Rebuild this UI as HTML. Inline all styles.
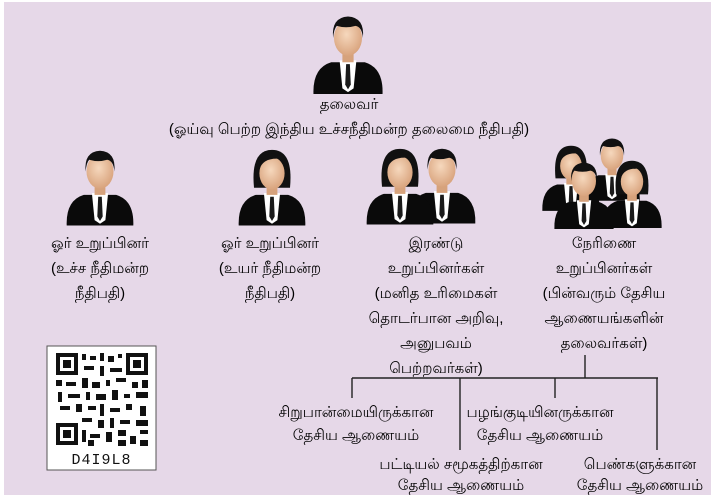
<!DOCTYPE html>
<html><head><meta charset="utf-8"><style>
body{margin:0;width:717px;height:501px;background:#fff;position:relative;overflow:hidden;font-family:"Liberation Sans","Noto Sans CJK SC",sans-serif;}
#bg{position:absolute;left:4px;top:2px;width:707px;height:493px;background:#e6d8e8;}
.t{position:absolute;font-size:15px;line-height:25px;color:#000;text-align:center;white-space:nowrap;transform:translateX(-50%);}
svg{position:absolute;left:0;top:0;}
</style></head><body>
<div id="bg"></div>
<svg width="717" height="501" viewBox="0 0 717 501">
<defs>
<radialGradient id="sk" cx="0.45" cy="0.4" r="0.6"><stop offset="0" stop-color="#f6d8bd"/><stop offset="1" stop-color="#d9a47e"/></radialGradient>
<symbol id="man" viewBox="0 0 80 90">
<path d="M3 90 Q2 62 22 56 L58 56 Q78 62 77 90Z" fill="#0a0a0a"/>
<path d="M31 54 L49 54 L46 84 L40 88 L34 84Z" fill="#fff"/>
<path d="M38 58 L42 58 L43 80 L40 85 L37 80Z" fill="#1a1a1a"/>
<rect x="34" y="42" width="12" height="14" fill="#d6a27c"/>
<ellipse cx="40" cy="30" rx="15" ry="19" fill="url(#sk)"/>
<path d="M24 30 Q22 8 40 7 Q58 8 56 30 Q55 18 48 17 Q38 20 28 17 Q25 20 24 30Z" fill="#111"/>
</symbol>
<symbol id="wom" viewBox="0 0 80 90">
<path d="M3 90 Q2 62 22 56 L58 56 Q78 62 77 90Z" fill="#0a0a0a"/>
<path d="M31 54 L49 54 L46 84 L40 88 L34 84Z" fill="#fff"/>
<path d="M38 58 L42 58 L43 80 L40 85 L37 80Z" fill="#1a1a1a"/>
<path d="M20 48 Q16 6 40 6 Q64 6 60 48 L54 48 L26 48Z" fill="#111"/>
<rect x="34" y="42" width="12" height="14" fill="#d6a27c"/>
<ellipse cx="40" cy="32" rx="14" ry="18" fill="url(#sk)"/>
<path d="M26 28 Q30 14 50 16 Q54 22 55 30 Q52 10 40 10 Q26 12 26 28Z" fill="#111"/>
</symbol>
</defs>
<use href="#man" x="310" y="10" width="76" height="84"/>
<use href="#man" x="64" y="144" width="72" height="82"/>
<use href="#wom" x="236" y="144" width="72" height="82"/>
<use href="#man" x="406" y="140" width="72" height="86"/>
<use href="#wom" x="364" y="142" width="72" height="84"/>
<use href="#man" x="582" y="132" width="60" height="70"/>
<use href="#wom" x="540" y="138" width="62" height="76"/>
<use href="#wom" x="600" y="154" width="64" height="76"/>
<use href="#man" x="552" y="156" width="64" height="74"/>
<g stroke="#222" stroke-width="1.4" fill="none">
<path d="M585 355 V378 M352 378 H658 M352 378 V398 M460 378 V450 M555 378 V398 M657 378 V450"/>
</g>
<rect x="47" y="346" width="109" height="124" fill="#fff" stroke="#555"/>
<g fill="#111">
<rect x="56" y="353" width="22" height="22"/><rect x="60" y="357" width="14" height="14" fill="#fff"/><rect x="63" y="360" width="8" height="8"/>
<rect x="126" y="353" width="22" height="22"/><rect x="130" y="357" width="14" height="14" fill="#fff"/><rect x="133" y="360" width="8" height="8"/>
<rect x="56" y="423" width="22" height="22"/><rect x="60" y="427" width="14" height="14" fill="#fff"/><rect x="63" y="430" width="8" height="8"/>
<path d="M82 354h4v6h-4zM90 356h6v4h-6zM100 353h4v8h-4zM108 356h6v6h-6zM118 354h4v4h-4zM84 366h10v4H84zM100 366h4v10h-4zM110 368h12v4h-12zM56 380h6v6h-6zM66 382h10v4H66zM82 378h6v10h-6zM92 382h8v6h-8zM106 380h4v6h-4zM116 378h10v4h-10zM132 382h6v6h-6zM142 380h6v8h-6zM58 392h4v10h-4zM68 394h12v4H68zM86 392h4v8h-4zM96 394h10v6H96zM112 390h6v10h-6zM124 394h6v4h-6zM136 392h12v6h-12zM60 406h10v4H60zM76 404h6v8h-6zM88 406h8v4h-8zM100 404h4v12h-4zM110 408h10v4h-10zM126 404h6v6h-6zM140 406h6v10h-6zM82 418h10v4H82zM98 420h6v8h-6zM110 418h4v10h-4zM120 420h10v4h-10zM136 420h12v6h-12zM82 430h4v12h-4zM90 434h10v4H90zM106 432h6v10h-6zM118 430h8v6h-8zM130 436h6v8h-6zM140 430h8v4h-8zM88 440h6v6h-6zM118 440h8v6h-8zM140 440h8v6h-8z"/>
</g>
<text x="101.5" y="464" text-anchor="middle" font-family="Liberation Mono, monospace" font-size="15" fill="#111" letter-spacing="1">D4I9L8</text>
</svg>
<div class="t" style="left:349px;top:92px">தலைவர்<br>(ஓய்வு பெற்ற இந்திய உச்சநீதிமன்ற தலைமை நீதிபதி)</div>
<div class="t" style="left:100px;top:231px">ஓர் உறுப்பினர்<br>(உச்ச நீதிமன்ற<br>நீதிபதி)</div>
<div class="t" style="left:270px;top:231px">ஓர் உறுப்பினர்<br>(உயர் நீதிமன்ற<br>நீதிபதி)</div>
<div class="t" style="left:436px;top:231px">இரண்டு<br>உறுப்பினர்கள்<br>(மனித உரிமைகள்<br>தொடர்பான அறிவு,<br>அனுபவம்<br>பெற்றவர்கள்)</div>
<div class="t" style="left:604px;top:231px">நேரிணை<br>உறுப்பினர்கள்<br>(பின்வரும் தேசிய<br>ஆணையங்களின்<br>தலைவர்கள்)</div>
<div class="t" style="left:356px;top:401px;line-height:23px">சிறுபான்மையிருக்கான<br>தேசிய ஆணையம்</div>
<div class="t" style="left:540px;top:401px;line-height:23px">பழங்குடியினருக்கான<br>தேசிய ஆணையம்</div>
<div class="t" style="left:461px;top:454px;line-height:21px">பட்டியல் சமூகத்திற்கான<br>தேசிய ஆணையம்</div>
<div class="t" style="left:640px;top:454px;line-height:21px">பெண்களுக்கான<br>தேசிய ஆணையம்</div>
</body></html>
